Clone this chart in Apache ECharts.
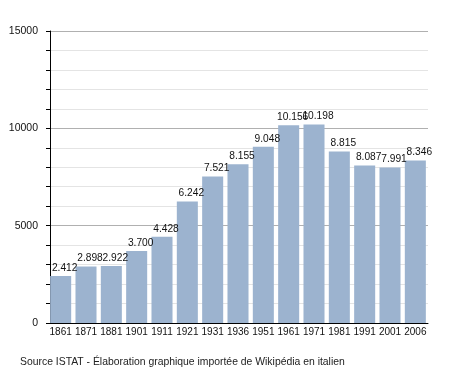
<!DOCTYPE html>
<html>
<head>
<meta charset="utf-8">
<script src="https://cdn.jsdelivr.net/npm/echarts@6/dist/echarts.min.js"></script>
<style>
html,body{margin:0;padding:0;background:#fff;}
#c{width:455px;height:373px;}
</style>
</head>
<body>
<div id="c"></div>
<script>
const categories = ['1861','1871','1881','1901','1911','1921','1931','1936','1951','1961','1971','1981','1991','2001','2006'];
const population = [2412, 2898, 2922, 3700, 4428, 6242, 7521, 8155, 9048, 10156, 10198, 8815, 8087, 7991, 8346];
const yTickLabels = ['0', '5000', '10000', '15000'];
const sourceText = 'Source ISTAT - Élaboration graphique importée de Wikipédia en italien';

function fmt(v) {
  return String(v).replace(/\B(?=(\d{3})+(?!\d))/g, '.');
}

const chart = echarts.init(document.getElementById('c'), null, {renderer: 'canvas'});
const font = 'Liberation Sans, Arial, sans-serif';
chart.setOption({
  animation: false,
  backgroundColor: '#fff',
  grid: {left: 48, right: 27, top: 31, bottom: 50, containLabel: false},
  graphic: [{
    type: 'text', left: 20, top: 357,
    style: {text: sourceText, fontFamily: font, fontSize: 10.4, fill: '#222'}
  }],
  xAxis: {
    type: 'category',
    data: categories,
    axisLine: {lineStyle: {color: '#000', width: 1}},
    axisTick: {show: false},
    axisLabel: {color: '#111', fontFamily: font, fontSize: 10, margin: 4, interval: 0}
  },
  yAxis: {
    type: 'value',
    min: 0, max: 15000, interval: 1000,
    offset: -2,
    axisLine: {show: true, lineStyle: {color: '#000', width: 1}},
    axisTick: {show: true, length: 4, lineStyle: {color: '#000'}},
    axisLabel: {
      color: '#111', fontFamily: font, fontSize: 10.5, margin: 12,
      formatter: function (v) { return yTickLabels.indexOf(String(v)) >= 0 ? String(v) : ''; }
    },
    splitLine: {show: true, lineStyle: {color: ['#ffffff', '#e4e4e4', '#e4e4e4', '#e4e4e4', '#e4e4e4', '#b0b0b0', '#e4e4e4', '#e4e4e4', '#e4e4e4', '#e4e4e4', '#b0b0b0', '#e4e4e4', '#e4e4e4', '#e4e4e4', '#e4e4e4', '#b0b0b0'], width: 1}}
  },
  series: [{
    type: 'bar',
    data: population,
    barCategoryGap: '17%',
    itemStyle: {color: '#9cb3cf'},
    label: {
      show: true, position: 'top', distance: 3, offset: [4, 0],
      color: '#111', fontFamily: font, fontSize: 10.2,
      formatter: function (p) { return fmt(p.value); }
    }
  }]
});
</script>
</body>
</html>
